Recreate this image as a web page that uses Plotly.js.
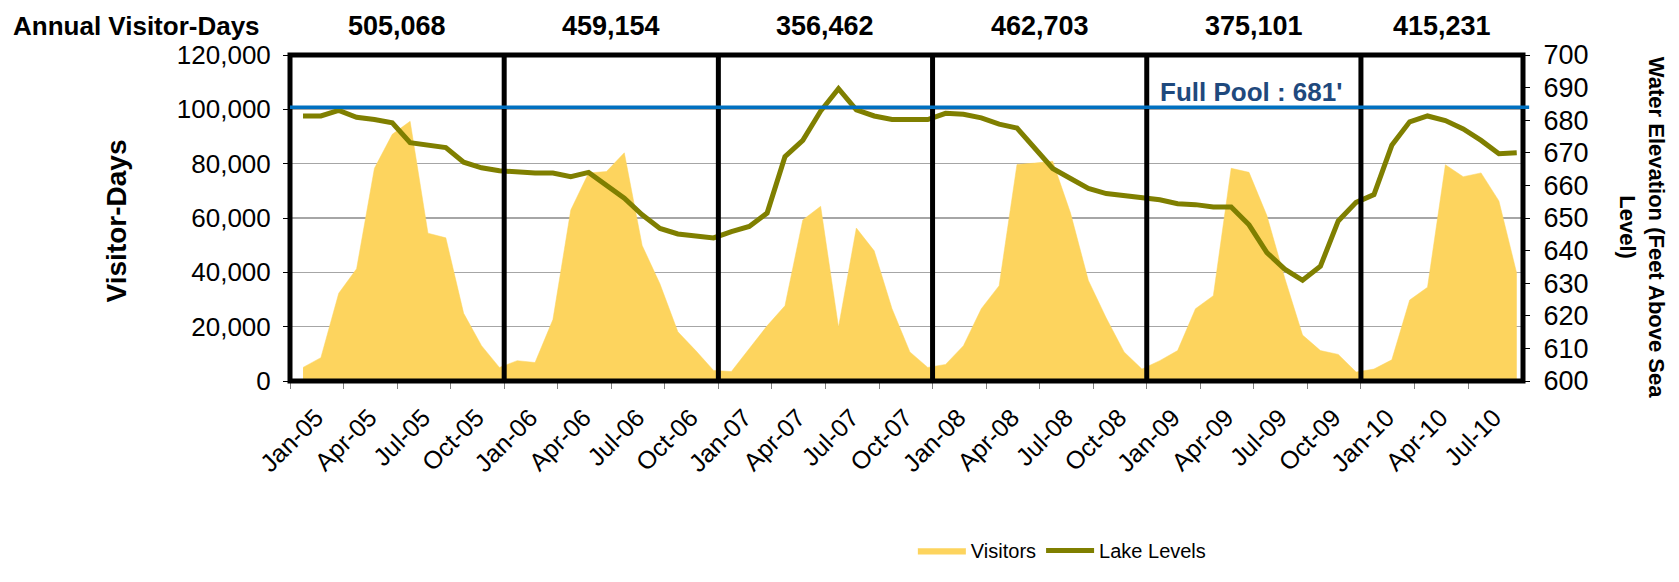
<!DOCTYPE html>
<html><head><meta charset="utf-8">
<script src="https://cdn.plot.ly/plotly-3.0.1.min.js"></script>
<style>html,body{margin:0;padding:0;background:#fff}#chart{width:1679px;height:582px}</style>
</head><body><div id="chart"></div>
<script>
const months = [
 "Jan-05","Feb-05","Mar-05","Apr-05","May-05","Jun-05","Jul-05","Aug-05","Sep-05","Oct-05","Nov-05","Dec-05",
 "Jan-06","Feb-06","Mar-06","Apr-06","May-06","Jun-06","Jul-06","Aug-06","Sep-06","Oct-06","Nov-06","Dec-06",
 "Jan-07","Feb-07","Mar-07","Apr-07","May-07","Jun-07","Jul-07","Aug-07","Sep-07","Oct-07","Nov-07","Dec-07",
 "Jan-08","Feb-08","Mar-08","Apr-08","May-08","Jun-08","Jul-08","Aug-08","Sep-08","Oct-08","Nov-08","Dec-08",
 "Jan-09","Feb-09","Mar-09","Apr-09","May-09","Jun-09","Jul-09","Aug-09","Sep-09","Oct-09","Nov-09","Dec-09",
 "Jan-10","Feb-10","Mar-10","Apr-10","May-10","Jun-10","Jul-10","Aug-10","Sep-10"
];
const visitors = [
 5000, 8600, 32300, 41300, 78300, 90800, 95600, 54400, 52700, 24900, 13000, 5000,
 7500, 6800, 22600, 62900, 76600, 77100, 84000, 49900, 35700, 18100, 11200, 3900,
 3500, 11800, 20300, 27700, 59300, 64300, 19800, 56300, 47900, 26600, 10700, 5000,
 6100, 13000, 26600, 35100, 79700, 80200, 80900, 61800, 37000, 23200, 10700, 4400,
 7500, 11200, 26600, 31400, 78300, 76800, 60900, 37900, 16900, 11200, 9800, 3300,
 4400, 7800, 29800, 34500, 79600, 75200, 76600, 66300, 39600
];
const lakeLevels = [
 681.3, 681.3, 683.0, 680.9, 680.2, 679.2, 673.1, 672.3, 671.6, 667.1, 665.4, 664.5,
 664.0, 663.8, 663.8, 662.7, 664.0, 660.2, 656.1, 651.0, 646.8, 645.1, 644.6, 643.9,
 645.8, 647.4, 651.5, 668.8, 673.8, 682.8, 689.7, 683.2, 681.3, 680.2, 680.2, 680.2,
 682.1, 681.8, 680.7, 678.8, 677.6, 671.4, 665.2, 662.1, 659.1, 657.5, 656.8, 656.1,
 655.6, 654.4, 654.1, 653.4, 653.4, 647.9, 639.4, 634.3, 630.9, 635.2, 649.1, 654.8,
 657.2, 672.3, 679.5, 681.3, 679.9, 677.3, 673.8, 669.7, 670.0
];
const tickLabels = ["Jan-05","Apr-05","Jul-05","Oct-05","Jan-06","Apr-06","Jul-06","Oct-06",
 "Jan-07","Apr-07","Jul-07","Oct-07","Jan-08","Apr-08","Jul-08","Oct-08",
 "Jan-09","Apr-09","Jul-09","Oct-09","Jan-10","Apr-10","Jul-10"];
const yearStartLabels = ["Jan-05","Jan-06","Jan-07","Jan-08","Jan-09","Jan-10"];
const annualVisitorDays = ["505,068","459,154","356,462","462,703","375,101","415,231"];
const annualTitle = "Annual Visitor-Days";
const fullPoolLabel = "Full Pool : 681'";
const fullPoolLineLevel = 684;

const xIdx = months.map((m, i) => i);
const OFF = 0.73;
const xMin = -OFF, xMax = 68.35;
const tickVals = tickLabels.map(l => months.indexOf(l) - OFF);
const yearStarts = yearStartLabels.map(l => months.indexOf(l) - OFF);
const FONT = 'Liberation Sans, Arial, sans-serif';

const shapes = [];
yearStarts.slice(1).forEach(x => shapes.push({type:'line', xref:'x', yref:'paper', x0:x, x1:x, y0:0, y1:1, line:{color:'#000', width:5}}));
shapes.push({type:'rect', xref:'paper', yref:'paper', x0:0, x1:1, y0:0, y1:1, line:{color:'#000', width:5}});
shapes.push({type:'line', xref:'paper', yref:'y2', x0:0, x1:1.005, y0:fullPoolLineLevel, y1:fullPoolLineLevel, line:{color:'#0070C0', width:3.5}});

const annotations = [];
annotations.push({text:annualTitle, xref:'paper', yref:'paper', x:-0.2263, y:1.09, xanchor:'left', yanchor:'middle', showarrow:false,
  font:{family:FONT, size:26, color:'#000', weight:'bold'}});
yearStarts.forEach((s, k) => {
  const e = Math.min(s + 12, xMax);
  annotations.push({text:annualVisitorDays[k], xref:'x', yref:'paper', x:(s + e) / 2, y:1.09, xanchor:'center', yanchor:'middle', showarrow:false,
    font:{family:FONT, size:27, color:'#000', weight:'bold'}});
});
annotations.push({text:fullPoolLabel, xref:'x', yref:'y2', x:47.9, y:688.6, xanchor:'left', yanchor:'middle', showarrow:false,
  font:{family:FONT, size:26, color:'#1F497D', weight:'bold'}});
annotations.push({text:'Visitor-Days', xref:'paper', yref:'paper', x:-0.141, y:0.49, xanchor:'center', yanchor:'middle', textangle:-90, showarrow:false,
  font:{family:FONT, size:28, color:'#000', weight:'bold'}});
annotations.push({text:'Water Elevation (Feet Above Sea<br>Level)', xref:'paper', yref:'paper', x:1.0965, y:0.47, xanchor:'center', yanchor:'middle', textangle:90, showarrow:false,
  font:{family:FONT, size:22, color:'#000', weight:'bold'}});

const traces = [
  {x:xIdx, y:visitors, name:'Visitors', type:'scatter', mode:'lines', fill:'tozeroy',
   fillcolor:'rgb(253,212,94)', line:{color:'rgb(253,212,94)', width:0.5}, yaxis:'y', hoverinfo:'skip'},
  {x:xIdx, y:lakeLevels, name:'Lake Levels', type:'scatter', mode:'lines',
   line:{color:'#7F7F00', width:5}, yaxis:'y2', hoverinfo:'skip'}
];

const layout = {
  width:1679, height:582,
  margin:{l:290, r:156, t:55, b:171},
  paper_bgcolor:'#fff', plot_bgcolor:'#fff',
  font:{family:FONT, color:'#000'},
  showlegend:true,
  legend:{orientation:'h', x:0.626, xanchor:'center', y:-0.52, yanchor:'middle', font:{family:FONT, size:20}, itemwidth:48},
  xaxis:{range:[xMin, xMax], tickmode:'array', tickvals:tickVals, ticktext:tickLabels, tickangle:-45,
    tickfont:{family:FONT, size:25}, ticks:'outside', ticklen:7, tickcolor:'#808080', ticklabelshift:26, ticklabelstandoff:4,
    showgrid:false, zeroline:false, showline:false},
  yaxis:{range:[0,120000], dtick:20000, tickformat:',d', tickfont:{family:FONT, size:26}, ticks:'outside', ticklen:6, tickcolor:'#000',
    ticklabelstandoff:7, showgrid:true, gridcolor:'#a6a6a6', gridwidth:1.2, zeroline:false, showline:false},
  yaxis2:{overlaying:'y', side:'right', range:[600,700], dtick:10, tickfont:{family:FONT, size:27}, ticks:'outside', ticklen:6, tickcolor:'#000',
    ticklabelstandoff:8, showgrid:false, zeroline:false, showline:false},
  shapes:shapes, annotations:annotations
};
Plotly.newPlot('chart', traces, layout, {displayModeBar:false, staticPlot:true});
</script>
</body></html>
